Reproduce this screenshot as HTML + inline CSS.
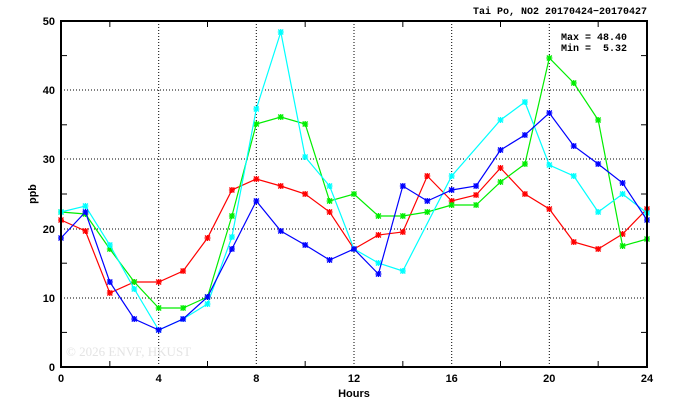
<!DOCTYPE html>
<html><head><meta charset="utf-8"><style>
html,body{margin:0;padding:0;background:#fff;width:674px;height:409px;overflow:hidden}
svg{display:block;font-family:"Liberation Sans","DejaVu Sans",sans-serif}
.m{font-family:"Liberation Mono","DejaVu Sans Mono",monospace;white-space:pre}
</style></head><body>
<svg id="s" width="674" height="409" viewBox="0 0 674 409" xmlns="http://www.w3.org/2000/svg">
<rect width="674" height="409" fill="#fff"/>
<g stroke="#000" stroke-width="1" stroke-dasharray="1,2" fill="none">
<line x1="61" y1="298" x2="647" y2="298"/><line x1="61" y1="229" x2="647" y2="229"/>
<line x1="61" y1="159" x2="647" y2="159"/><line x1="61" y1="90" x2="647" y2="90"/>
<line x1="158.7" y1="21" x2="158.7" y2="367"/><line x1="256.3" y1="21" x2="256.3" y2="367"/>
<line x1="354" y1="21" x2="354" y2="367"/><line x1="451.7" y1="21" x2="451.7" y2="367"/>
<line x1="549.3" y1="21" x2="549.3" y2="367"/>
</g>
<text x="66" y="356" font-size="13" fill="#e4e4e4" font-family="Liberation Serif,serif">© 2026  ENVF, HKUST</text>
<g id="ticks" stroke="#000" stroke-width="1"></g>
<g id="series"></g>
<rect x="61" y="21" width="586" height="346" fill="none" stroke="#000" stroke-width="2"/>
<g font-size="11" font-weight="bold" fill="#000">
<text x="55" y="371" text-anchor="end">0</text><text x="55" y="302" text-anchor="end">10</text>
<text x="55" y="233" text-anchor="end">20</text><text x="55" y="163" text-anchor="end">30</text>
<text x="55" y="94" text-anchor="end">40</text><text x="55" y="25" text-anchor="end">50</text>
<text x="61" y="382" text-anchor="middle">0</text><text x="158.7" y="382" text-anchor="middle">4</text>
<text x="256.3" y="382" text-anchor="middle">8</text><text x="354" y="382" text-anchor="middle">12</text>
<text x="451.7" y="382" text-anchor="middle">16</text><text x="549.3" y="382" text-anchor="middle">20</text>
<text x="647" y="382" text-anchor="middle">24</text>
<text x="354" y="397" text-anchor="middle">Hours</text>
<text class="m" transform="translate(36,194) rotate(-90)" text-anchor="middle">ppb</text>
<text class="m" x="647" y="14" text-anchor="end" font-size="10">Tai Po, NO2 20170424−20170427</text>
<text class="m" x="561" y="40" font-size="10">Max = 48.40</text>
<text class="m" x="561" y="51" font-size="10">Min =  5.32</text>
</g>
</svg>
<script>
var ns="http://www.w3.org/2000/svg",S=document.getElementById('series'),T=document.getElementById('ticks');
function X(h){return 61+h*586/24}
for(var h=2;h<24;h+=2){if(h%4){[[367,361],[21,27]].forEach(function(p){var l=document.createElementNS(ns,'line');l.setAttribute('x1',X(h));l.setAttribute('x2',X(h));l.setAttribute('y1',p[0]);l.setAttribute('y2',p[1]);T.appendChild(l);});}}
[332.4,263.2,194,124.8,55.6].forEach(function(y){[[61,67],[647,641]].forEach(function(p){var l=document.createElementNS(ns,'line');l.setAttribute('x1',p[0]);l.setAttribute('x2',p[1]);l.setAttribute('y1',y);l.setAttribute('y2',y);T.appendChild(l);});});
var D={
"#ff0000":[220,231,293,282,282,271,238,190,179,186,194,212,249,235,232,176,201,195,168,194,209,242,249,234,209],
"#00ee00":[212,214,249,282,308,308,297,216,124,117,124,201,194,216,216,212,205,205,182,164,58,83,120,246,239],
"#00ffff":[212,206,245,289,330,319,304,237,109,32,157,186,249,263,271,null,176,null,120,102,165,176,212,194,213],
"#0000ff":[238,212,282,319,330,319,297,249,201,231,245,260,249,274,186,201,190,186,150,135,113,146,164,183,220]};
for(var c in D){var pts=[],a=D[c];for(var i=0;i<a.length;i++)if(a[i]!==null)pts.push(X(i).toFixed(1)+","+a[i]);
var pl=document.createElementNS(ns,'polyline');pl.setAttribute('points',pts.join(' '));pl.setAttribute('fill','none');pl.setAttribute('stroke',c);pl.setAttribute('stroke-width','1.2');S.appendChild(pl);
for(var i=0;i<a.length;i++)if(a[i]!==null){var x=X(i),y=a[i],p=document.createElementNS(ns,'path');
p.setAttribute('d','M'+(x-3)+','+y+'h6M'+x+','+(y-3)+'v6M'+(x-2.5)+','+(y-2.5)+'l5,5M'+(x-2.5)+','+(y+2.5)+'l5,-5');
p.setAttribute('stroke',c);p.setAttribute('stroke-width','1.3');S.appendChild(p);}}
</script>
</body></html>
